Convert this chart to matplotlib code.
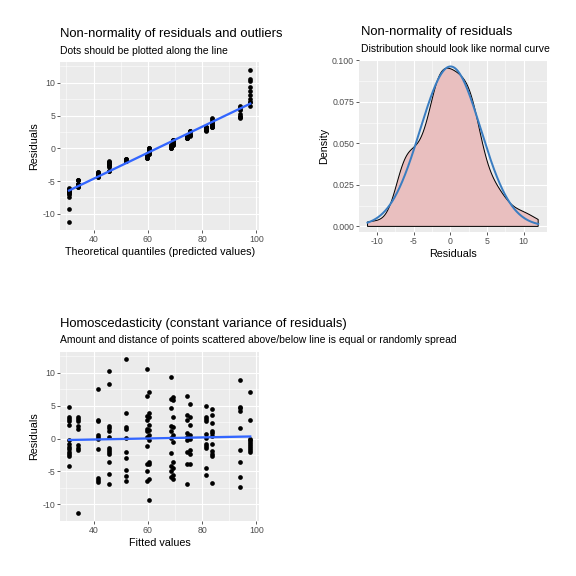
import numpy as np
import matplotlib
matplotlib.use("Agg")
import matplotlib.pyplot as plt
from matplotlib.ticker import FixedLocator, FormatStrFormatter

plt.rcParams['font.family'] = ['Liberation Sans', 'DejaVu Sans']
plt.rcParams['axes.unicode_minus'] = False

# ---- data: fitted values and residuals ----
fit_values = [31.0, 34.2, 41.6, 45.8, 51.9, 59.7, 60.6, 68.7, 69.3, 74.4, 75.4, 81.5, 83.8, 94.0, 97.7]
resid_groups = [
    [4.8, 3.2, 2.9, 2.7, 2.0, -0.2, -0.9, -1.3, -1.6, -2.0, -2.4, -2.7, -4.1],
    [3.3, 3.0, 2.7, 1.9, 1.5, -1.0, -1.4, -1.8, -11.3],
    [7.5, 2.8, 2.6, 0.5, 0.3, 0.0, -1.6, -6.0, -6.3, -6.6],
    [10.3, 8.2, 1.9, 1.6, 1.2, 0.2, -1.5, -1.8, -2.0, -2.3, -3.5, -5.4, -6.9],
    [12.0, 3.9, 1.7, 1.5, 0.1, -2.1, -2.9, -4.8, -5.7, -6.5],
    [10.5, 6.5, 3.4, 2.8, 1.5, 1.1, 0.3, -1.2, -3.8, -4.9, -6.5],
    [7.0, 3.8, 3.2, 2.0, 1.3, 0.5, -0.3, -3.6, -3.9, -6.2, -9.3],
    [9.3, 6.0, 4.6, 1.9, 1.2, 0.05, -2.2, -4.1, -4.9, -5.9],
    [6.3, 5.8, 3.2, 1.7, 0.5, -0.5, -3.5, -4.4, -5.5, -6.2],
    [6.4, 3.5, 2.8, 0.85, 0.2, -0.3, -2.0, -3.8, -6.9],
    [5.3, 3.2, 2.0, 0.55, 0.0, -1.8, -2.3, -3.9],
    [5.0, 3.3, 3.0, 2.6, 0.7, 0.1, -0.9, -1.2, -1.5, -4.4, -5.5],
    [4.5, 3.5, 2.3, 1.2, 0.85, 0.4, -0.8, -1.9, -2.3, -2.6, -6.7],
    [8.8, 4.8, 4.6, 4.2, 1.6, -1.7, -3.6, -5.9, -7.4],
    [7.0, 2.8, 0.0, -0.3, -0.6, -0.9, -1.2, -1.5, -1.8, -2.1],
]

fitted = np.concatenate([[f] * len(r) for f, r in zip(fit_values, resid_groups)])
resid = np.concatenate([np.array(r, float) for r in resid_groups])

W = H = 576
fig = plt.figure(figsize=(8, 8), dpi=72)

BG = '#EBEBEB'
BLUE = '#3366FF'

def px_axes(l, t, r, b):
    return fig.add_axes([l / W, 1 - b / H, (r - l) / W, (b - t) / H])

def style(ax, xmaj, xmin, ymaj, ymin):
    ax.set_facecolor(BG)
    for s in ax.spines.values():
        s.set_visible(False)
    ax.xaxis.set_major_locator(FixedLocator(xmaj))
    ax.xaxis.set_minor_locator(FixedLocator(xmin))
    ax.yaxis.set_major_locator(FixedLocator(ymaj))
    ax.yaxis.set_minor_locator(FixedLocator(ymin))
    ax.grid(which='major', color='white', linewidth=1.1)
    ax.grid(which='minor', color='white', linewidth=0.55)
    ax.set_axisbelow(True)
    ax.tick_params(which='major', length=2.75, width=0.8, color='#333333',
                   labelsize=8.8, labelcolor='#4D4D4D', pad=2.2)
    ax.tick_params(which='minor', length=0)

def titles(ax_top_px, left_px, title, sub):
    fig.text(left_px / W, 1 - (ax_top_px - 24.7) / H, title, fontsize=13.0,
             va='baseline', ha='left', color='black')
    fig.text(left_px / W, 1 - (ax_top_px - 8.4) / H, sub, fontsize=10.4,
             va='baseline', ha='left', color='black')

# ---- Panel 1: QQ-like plot ----
ax1 = px_axes(60, 62, 259.3, 230)
xs = np.sort(fitted)
ys = np.sort(resid)
ax1.scatter(xs, ys, s=22, color='black', linewidths=0, zorder=3)
p = np.polyfit(xs, ys, 1)
lx = np.array([xs.min(), xs.max()])
ax1.plot(lx, np.polyval(p, lx), color=BLUE, linewidth=2.3, zorder=4)
style(ax1, [40, 60, 80, 100], [30, 50, 70, 90], [-10, -5, 0, 5, 10], [-7.5, -2.5, 2.5, 7.5, 12.5])
ax1.margins(0.05)
ax1.set_xlabel('Theoretical quantiles (predicted values)', fontsize=10.8, labelpad=3)
ax1.set_ylabel('Residuals', fontsize=10.8, labelpad=3)
titles(62, 60, 'Non-normality of residuals and outliers', 'Dots should be plotted along the line')

# ---- Panel 2: density ----
ax2 = px_axes(359, 60, 546.7, 231.7)
n = len(resid)
sd = resid.std(ddof=1)
iqr = np.subtract(*np.percentile(resid, [75, 25]))
bw = 0.9 * min(sd, iqr / 1.34) * n ** (-0.2)
gx = np.linspace(resid.min(), resid.max(), 512)
dens = np.exp(-0.5 * ((gx[:, None] - resid[None, :]) / bw) ** 2).sum(axis=1) / (n * bw * np.sqrt(2 * np.pi))
norm = np.exp(-0.5 * ((gx - resid.mean()) / sd) ** 2) / (sd * np.sqrt(2 * np.pi))
px_ = np.concatenate([[gx[0]], gx, [gx[-1]]])
py_ = np.concatenate([[0], dens, [0]])
ax2.fill(px_, py_, facecolor='#E9BFBF', edgecolor='black', linewidth=1.0, zorder=3, closed=True)
ax2.plot(gx, norm, color='#3A7DC1', linewidth=2.0, zorder=4)
style(ax2, [-10, -5, 0, 5, 10], [-7.5, -2.5, 2.5, 7.5],
      [0, 0.025, 0.05, 0.075, 0.1], [0.0125, 0.0375, 0.0625, 0.0875])
ax2.margins(x=0.05)
ax2.set_ylim(-0.0032, 0.1003)
ax2.yaxis.set_major_formatter(FormatStrFormatter('%.3f'))
ax2.set_xlabel('Residuals', fontsize=10.8, labelpad=3)
ax2.set_ylabel('Density', fontsize=10.8, labelpad=3)
titles(60, 361, 'Non-normality of residuals', 'Distribution should look like normal curve')

# ---- Panel 3: homoscedasticity ----
ax3 = px_axes(60, 351.7, 259.3, 520.7)
ax3.scatter(fitted, resid, s=22, color='black', linewidths=0, zorder=3)
p3 = np.polyfit(fitted, resid, 1)
lx3 = np.array([fitted.min(), fitted.max()])
ax3.plot(lx3, np.polyval(p3, lx3), color=BLUE, linewidth=2.3, zorder=4)
style(ax3, [40, 60, 80, 100], [30, 50, 70, 90], [-10, -5, 0, 5, 10], [-7.5, -2.5, 2.5, 7.5, 12.5])
ax3.margins(0.05)
ax3.set_xlabel('Fitted values', fontsize=10.8, labelpad=3)
ax3.set_ylabel('Residuals', fontsize=10.8, labelpad=3)
titles(351.7, 60, 'Homoscedasticity (constant variance of residuals)',
       'Amount and distance of points scattered above/below line is equal or randomly spread')

fig.savefig('out.png', dpi=72, facecolor='white')
